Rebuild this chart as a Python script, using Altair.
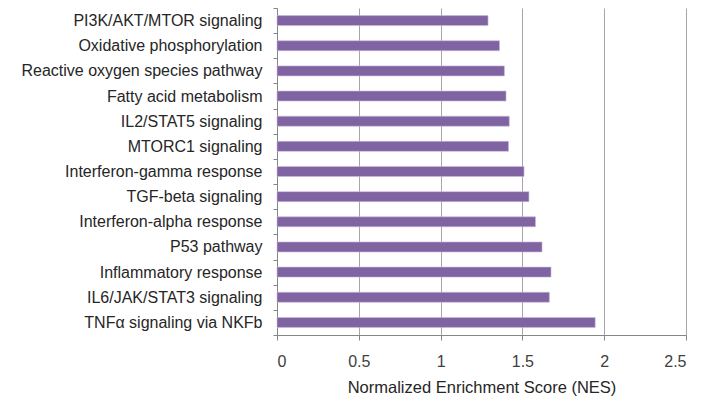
import altair as alt
import pandas as pd

categories = [
    "PI3K/AKT/MTOR signaling",
    "Oxidative phosphorylation",
    "Reactive oxygen species pathway",
    "Fatty acid metabolism",
    "IL2/STAT5 signaling",
    "MTORC1 signaling",
    "Interferon-gamma response",
    "TGF-beta signaling",
    "Interferon-alpha response",
    "P53 pathway",
    "Inflammatory response",
    "IL6/JAK/STAT3 signaling",
    "TNFα signaling via NKFb",
]
nes = [1.29, 1.36, 1.39, 1.40, 1.42, 1.415, 1.51, 1.54, 1.58, 1.62, 1.675, 1.665, 1.945]

df = pd.DataFrame({"pathway": categories, "nes": nes})

FONT = "Liberation Sans"

chart = alt.Chart(df).mark_bar(
    color="#8064A2", size=10, stroke="#C9B8DD", strokeWidth=0.6
).encode(
    x=alt.X(
        "nes:Q",
        scale=alt.Scale(domain=[0, 2.5], nice=False),
        axis=alt.Axis(
            title="Normalized Enrichment Score (NES)",
            values=[0, 0.5, 1, 1.5, 2, 2.5],
            format="~g",
            grid=True,
            gridColor="#A6A6A6",
            gridWidth=1,
            domainColor="#868686",
            tickColor="#868686",
            tickSize=5,
            labelFont=FONT,
            labelFontSize=16,
            labelColor="#404040",
            labelPadding=13,
            titleFont=FONT,
            titleFontSize=16.5,
            titleFontWeight="normal",
            titleColor="#262626",
            titlePadding=10,
        ),
    ),
    y=alt.Y(
        "pathway:N",
        sort=categories,
        scale=alt.Scale(paddingInner=0, paddingOuter=0),
        axis=alt.Axis(
            title=None,
            tickBand="extent",
            domainColor="#868686",
            tickColor="#868686",
            tickSize=4,
            labelFont=FONT,
            labelFontSize=16,
            labelColor="#262626",
            labelPadding=11,
            labelLimit=400,
        ),
    ),
).properties(
    width=409,
    height=327,
    padding={"left": 269, "top": 0, "right": 5, "bottom": 80},
    autosize=alt.AutoSizeParams(type="none"),
).configure_view(stroke=None)

chart.save("out.html", embed_options={"renderer": "svg", "actions": False})
